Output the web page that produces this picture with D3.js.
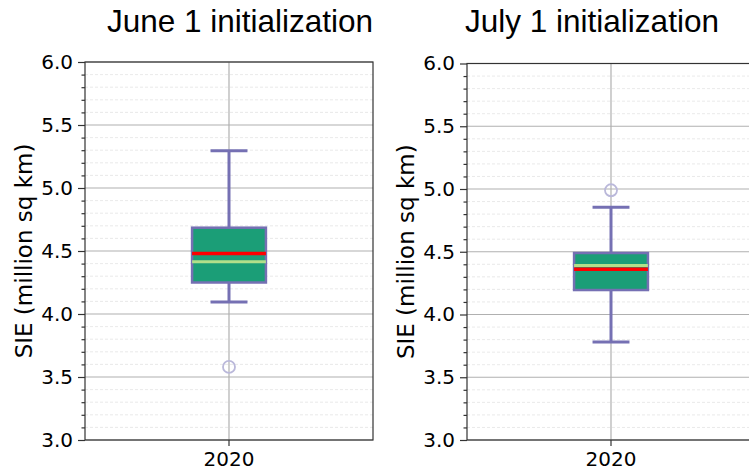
<!DOCTYPE html>
<html lang="en">
<head>
  <meta charset="utf-8">
  <title>SIE box plots</title>
  <script src="https://d3js.org/d3.v7.min.js"></script>
  <style>
    body { margin: 0; background: #fff; }
    .tick text { font-family: "DejaVu Sans", sans-serif; font-size: 20px; fill: #000; }
    .domain { stroke: none; }
    .tick line { stroke: #333; stroke-width: 1.2; }
  </style>
</head>
<body>
<div id="vis"></div>
<script>
  // data
  var titles = ["June 1 initialization", "July 1 initialization"];
  var categories = ["2020"];
  var q1 = [4.25, 4.195];
  var q3 = [4.685, 4.49];
  var median = [4.48, 4.36];
  var mean = [4.415, 4.39];
  var whiskerLow = [4.095, 3.78];
  var whiskerHigh = [5.295, 4.855];
  var outliers = [[3.58], [4.99]];
  var yMajor = [3.0, 3.5, 4.0, 4.5, 5.0, 5.5, 6.0];
  var yMinor = d3.range(30, 61).map(function (d) { return d / 10; });

  var larguraSVG = 749, alturaSVG = 473;
  var panels = [
    { left: 85, top: 62, bottom: 440, width: 288, titleX: 240, labelX: 32 },
    { left: 467, top: 63.5, bottom: 440, width: 288, titleX: 592, labelX: 414 }
  ];

  var svg = d3.select("#vis").append("svg")
    .attr("width", larguraSVG)
    .attr("height", alturaSVG);

  panels.forEach(function (p, i) {
    var altura = p.bottom - p.top;
    var g = svg.append("g")
      .attr("transform", "translate(" + p.left + "," + p.top + ")");

    var x = d3.scaleBand()
      .domain(categories)
      .range([0, p.width])
      .paddingInner(0)
      .paddingOuter(1.45);

    var y = d3.scaleLinear()
      .domain([3, 6])
      .range([altura, 0]);

    // minor grid
    g.selectAll(".minor")
      .data(yMinor.filter(function (d) { return yMajor.indexOf(d) < 0; }))
      .enter().append("line")
      .attr("x1", 0).attr("x2", p.width)
      .attr("y1", function (d) { return y(d); })
      .attr("y2", function (d) { return y(d); })
      .attr("stroke", "#e3e3e3")
      .attr("stroke-width", 0.8)
      .attr("stroke-dasharray", "3,2");

    // major grid
    g.selectAll(".major")
      .data(yMajor)
      .enter().append("line")
      .attr("x1", 0).attr("x2", p.width)
      .attr("y1", function (d) { return y(d); })
      .attr("y2", function (d) { return y(d); })
      .attr("stroke", "#b0b0b0")
      .attr("stroke-width", 1.2);

    var cx = x(categories[0]) + x.bandwidth() / 2;
    var bw = x.bandwidth();

    g.append("line")
      .attr("x1", cx).attr("x2", cx)
      .attr("y1", 0).attr("y2", altura)
      .attr("stroke", "#b0b0b0")
      .attr("stroke-width", 1.2);

    var roxo = "#7570b3";

    // whiskers
    g.append("line")
      .attr("x1", cx).attr("x2", cx)
      .attr("y1", y(q3[i])).attr("y2", y(whiskerHigh[i]))
      .attr("stroke", roxo).attr("stroke-width", 3);
    g.append("line")
      .attr("x1", cx).attr("x2", cx)
      .attr("y1", y(q1[i])).attr("y2", y(whiskerLow[i]))
      .attr("stroke", roxo).attr("stroke-width", 3);
    [whiskerHigh[i], whiskerLow[i]].forEach(function (v) {
      g.append("line")
        .attr("x1", cx - bw / 4).attr("x2", cx + bw / 4)
        .attr("y1", y(v)).attr("y2", y(v))
        .attr("stroke", roxo).attr("stroke-width", 3);
    });

    // box
    g.append("rect")
      .attr("x", x(categories[0]))
      .attr("y", y(q3[i]))
      .attr("width", bw)
      .attr("height", y(q1[i]) - y(q3[i]))
      .attr("fill", "#1b9e77")
      .attr("stroke", roxo)
      .attr("stroke-width", 2.5);

    // mean and median
    g.append("line")
      .attr("x1", x(categories[0])).attr("x2", x(categories[0]) + bw)
      .attr("y1", y(mean[i])).attr("y2", y(mean[i]))
      .attr("stroke", "#b2df8a").attr("stroke-width", 3);
    g.append("line")
      .attr("x1", x(categories[0])).attr("x2", x(categories[0]) + bw)
      .attr("y1", y(median[i])).attr("y2", y(median[i]))
      .attr("stroke", "#ff0000").attr("stroke-width", 3.5);

    // outliers
    g.selectAll(".out")
      .data(outliers[i])
      .enter().append("circle")
      .attr("cx", cx)
      .attr("cy", function (d) { return y(d); })
      .attr("r", 6)
      .attr("fill", "none")
      .attr("stroke", "#bab8da")
      .attr("stroke-width", 1.8);

    // axes
    g.append("g")
      .call(d3.axisLeft(y).tickValues(yMajor).tickSize(7).tickPadding(5)
        .tickFormat(d3.format(".1f")));
    g.append("g")
      .call(d3.axisLeft(y).tickValues(yMinor.filter(function (d) { return yMajor.indexOf(d) < 0; }))
        .tickSize(3.5).tickFormat(""));
    g.append("g")
      .attr("transform", "translate(0," + altura + ")")
      .call(d3.axisBottom(x).tickSize(6).tickPadding(6));

    // frame
    g.append("rect")
      .attr("x", 0).attr("y", 0)
      .attr("width", p.width).attr("height", altura)
      .attr("fill", "none")
      .attr("stroke", "#333")
      .attr("stroke-width", 1.2);

    // titles and labels
    svg.append("text")
      .attr("x", p.titleX)
      .attr("y", 32)
      .attr("text-anchor", "middle")
      .style("font-family", "'Liberation Sans', Arial, sans-serif")
      .style("font-size", "31.5px")
      .text(titles[i]);

    svg.append("text")
      .attr("transform", "translate(" + p.labelX + "," + (p.top + altura / 2) + ") rotate(-90)")
      .attr("text-anchor", "middle")
      .style("font-family", "'DejaVu Sans', sans-serif")
      .style("font-size", "23px")
      .text("SIE (million sq km)");
  });
</script>
</body>
</html>
